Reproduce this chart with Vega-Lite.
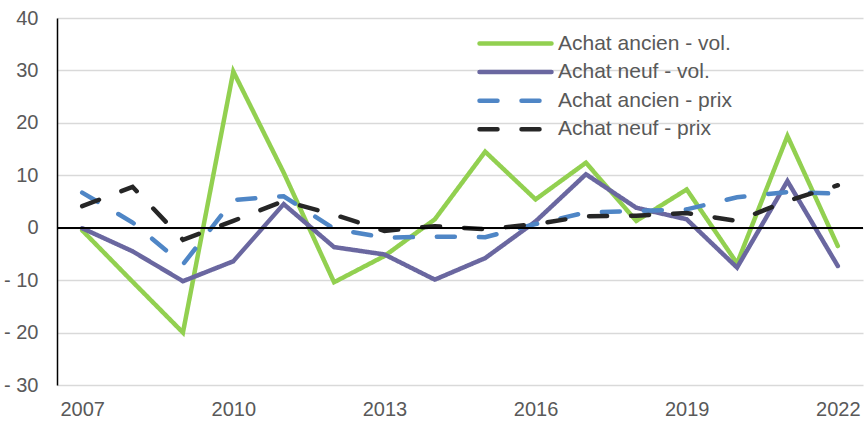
{
  "$schema": "https://vega.github.io/schema/vega-lite/v6.json",
  "width": 806,
  "height": 367,
  "autosize": {"type": "none"},
  "padding": {"left": 57, "top": 18, "right": 1, "bottom": 36},
  "background": "white",
  "config": {
    "view": {"stroke": null},
    "font": "Liberation Sans",
    "axis": {"labelFont": "Liberation Sans", "labelFontSize": 20, "labelColor": "#595959", "ticks": false, "title": null},
    "legend": {"labelFont": "Liberation Sans", "labelFontSize": 21, "labelColor": "#595959"}
  },
  "data": {
    "values": [
      {"annee": 2007, "serie": "Achat ancien - vol.", "valeur": -0.5},
      {"annee": 2008, "serie": "Achat ancien - vol.", "valeur": -10.3},
      {"annee": 2009, "serie": "Achat ancien - vol.", "valeur": -20.0},
      {"annee": 2010, "serie": "Achat ancien - vol.", "valeur": 29.8},
      {"annee": 2011, "serie": "Achat ancien - vol.", "valeur": 10.5},
      {"annee": 2012, "serie": "Achat ancien - vol.", "valeur": -10.4},
      {"annee": 2013, "serie": "Achat ancien - vol.", "valeur": -5.4},
      {"annee": 2014, "serie": "Achat ancien - vol.", "valeur": 1.6},
      {"annee": 2015, "serie": "Achat ancien - vol.", "valeur": 14.5},
      {"annee": 2016, "serie": "Achat ancien - vol.", "valeur": 5.4},
      {"annee": 2017, "serie": "Achat ancien - vol.", "valeur": 12.4},
      {"annee": 2018, "serie": "Achat ancien - vol.", "valeur": 1.3},
      {"annee": 2019, "serie": "Achat ancien - vol.", "valeur": 7.3},
      {"annee": 2020, "serie": "Achat ancien - vol.", "valeur": -6.8},
      {"annee": 2021, "serie": "Achat ancien - vol.", "valeur": 17.5},
      {"annee": 2022, "serie": "Achat ancien - vol.", "valeur": -3.5},
      {"annee": 2007, "serie": "Achat neuf - vol.", "valeur": -0.1},
      {"annee": 2008, "serie": "Achat neuf - vol.", "valeur": -4.5},
      {"annee": 2009, "serie": "Achat neuf - vol.", "valeur": -10.2},
      {"annee": 2010, "serie": "Achat neuf - vol.", "valeur": -6.4},
      {"annee": 2011, "serie": "Achat neuf - vol.", "valeur": 4.5},
      {"annee": 2012, "serie": "Achat neuf - vol.", "valeur": -3.7},
      {"annee": 2013, "serie": "Achat neuf - vol.", "valeur": -5.1},
      {"annee": 2014, "serie": "Achat neuf - vol.", "valeur": -9.9},
      {"annee": 2015, "serie": "Achat neuf - vol.", "valeur": -5.8},
      {"annee": 2016, "serie": "Achat neuf - vol.", "valeur": 1.2},
      {"annee": 2017, "serie": "Achat neuf - vol.", "valeur": 10.2},
      {"annee": 2018, "serie": "Achat neuf - vol.", "valeur": 3.8},
      {"annee": 2019, "serie": "Achat neuf - vol.", "valeur": 1.6},
      {"annee": 2020, "serie": "Achat neuf - vol.", "valeur": -7.6},
      {"annee": 2021, "serie": "Achat neuf - vol.", "valeur": 8.9},
      {"annee": 2022, "serie": "Achat neuf - vol.", "valeur": -7.3},
      {"annee": 2007, "serie": "Achat ancien - prix", "valeur": 6.7},
      {"annee": 2008, "serie": "Achat ancien - prix", "valeur": 1.0},
      {"annee": 2009, "serie": "Achat ancien - prix", "valeur": -7.0},
      {"annee": 2010, "serie": "Achat ancien - prix", "valeur": 5.3},
      {"annee": 2011, "serie": "Achat ancien - prix", "valeur": 6.0},
      {"annee": 2012, "serie": "Achat ancien - prix", "valeur": -0.2},
      {"annee": 2013, "serie": "Achat ancien - prix", "valeur": -1.9},
      {"annee": 2014, "serie": "Achat ancien - prix", "valeur": -1.7},
      {"annee": 2015, "serie": "Achat ancien - prix", "valeur": -1.8},
      {"annee": 2016, "serie": "Achat ancien - prix", "valeur": 0.7},
      {"annee": 2017, "serie": "Achat ancien - prix", "valeur": 2.9},
      {"annee": 2018, "serie": "Achat ancien - prix", "valeur": 3.2},
      {"annee": 2019, "serie": "Achat ancien - prix", "valeur": 3.5},
      {"annee": 2020, "serie": "Achat ancien - prix", "valeur": 5.8},
      {"annee": 2021, "serie": "Achat ancien - prix", "valeur": 6.8},
      {"annee": 2022, "serie": "Achat ancien - prix", "valeur": 6.5},
      {"annee": 2007, "serie": "Achat neuf - prix", "valeur": 4.1},
      {"annee": 2008, "serie": "Achat neuf - prix", "valeur": 7.8},
      {"annee": 2009, "serie": "Achat neuf - prix", "valeur": -2.3},
      {"annee": 2010, "serie": "Achat neuf - prix", "valeur": 1.3},
      {"annee": 2011, "serie": "Achat neuf - prix", "valeur": 5.1},
      {"annee": 2012, "serie": "Achat neuf - prix", "valeur": 2.5},
      {"annee": 2013, "serie": "Achat neuf - prix", "valeur": -0.6},
      {"annee": 2014, "serie": "Achat neuf - prix", "valeur": 0.3},
      {"annee": 2015, "serie": "Achat neuf - prix", "valeur": -0.3},
      {"annee": 2016, "serie": "Achat neuf - prix", "valeur": 0.7},
      {"annee": 2017, "serie": "Achat neuf - prix", "valeur": 2.2},
      {"annee": 2018, "serie": "Achat neuf - prix", "valeur": 2.3},
      {"annee": 2019, "serie": "Achat neuf - prix", "valeur": 2.8},
      {"annee": 2020, "serie": "Achat neuf - prix", "valeur": 1.3},
      {"annee": 2021, "serie": "Achat neuf - prix", "valeur": 5.1},
      {"annee": 2022, "serie": "Achat neuf - prix", "valeur": 8.1}
    ]
  },
  "layer": [
    {
      "mark": {"type": "line", "strokeWidth": 4.5, "strokeCap": "round", "strokeJoin": "miter"},
      "encoding": {
        "x": {
          "field": "annee", "type": "quantitative",
          "scale": {"domain": [2006.5, 2022.5], "nice": false, "zero": false},
          "axis": {"values": [2007, 2010, 2013, 2016, 2019, 2022], "format": "d", "grid": false, "domain": false, "labelPadding": 14}
        },
        "y": {
          "field": "valeur", "type": "quantitative",
          "scale": {"domain": [-30, 40], "nice": false},
          "axis": {
            "values": [-30, -20, -10, 0, 10, 20, 30, 40],
            "labelExpr": "datum.value < 0 ? '- ' + abs(datum.value) : '' + datum.value",
            "grid": true, "gridColor": "#d9d9d9", "gridWidth": 1.5,
            "domain": true, "domainColor": "#000000", "domainWidth": 1.5,
            "labelPadding": 19
          }
        },
        "color": {
          "field": "serie", "type": "nominal",
          "scale": {
            "domain": ["Achat ancien - vol.", "Achat neuf - vol.", "Achat ancien - prix", "Achat neuf - prix"],
            "range": ["#92d050", "#6a67a0", "#4f86c6", "#262626"]
          },
          "legend": {
            "title": null,
            "orient": "none",
            "legendX": 448,
            "legendY": 15,
            "padding": 0,
            "symbolType": "M-18,0H18",
            "symbolSize": 16,
            "symbolStrokeWidth": 4.5,
            "labelOffset": 32,
            "rowPadding": 6.6,
            "labelLimit": 400,
            "encode": {"symbols": {"update": {"strokeCap": {"value": "round"}}}}
          }
        },
        "strokeDash": {
          "field": "serie", "type": "nominal",
          "scale": {
            "domain": ["Achat ancien - vol.", "Achat neuf - vol.", "Achat ancien - prix", "Achat neuf - prix"],
            "range": [[1, 0], [1, 0], [18, 24], [18, 24]]
          },
          "legend": null
        }
      }
    },
    {
      "mark": {"type": "rule", "color": "#000000", "strokeWidth": 1.5},
      "encoding": {"y": {"datum": 0}}
    }
  ]
}
